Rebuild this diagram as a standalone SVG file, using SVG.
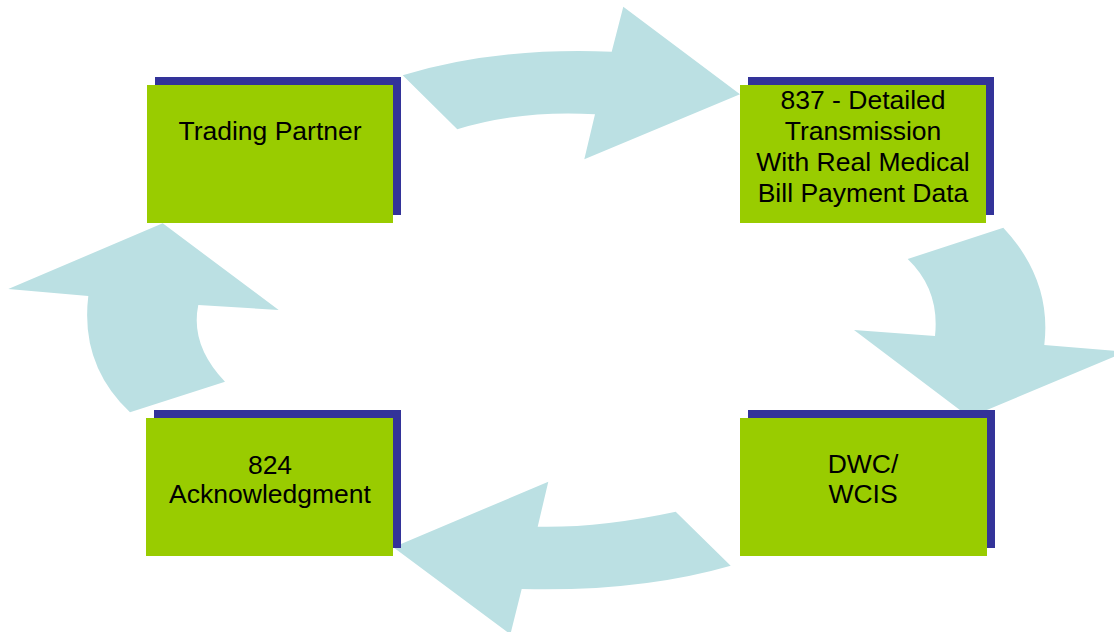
<svg xmlns="http://www.w3.org/2000/svg" width="1114" height="632" viewBox="0 0 1114 632">
<style>
.arrow{fill:#BBE0E3;stroke:none}
.shadow{fill:#333399}
.box{fill:#99CC00}
.label{font-family:"Liberation Sans",Arial,sans-serif;font-size:26.5px;fill:#000;text-anchor:middle}
</style>
<rect width="1114" height="632" fill="#fff"/>
<g id="connectors">
<path class="arrow" d="M402.7,75.3 Q495,47 611.7,51.7 L623.3,6.7 L740,94.3 L584.3,159.3 L595,114.3 Q520,110 457.3,129.3 Z"/>
<path class="arrow" d="M907.7,259 L1003.3,227.7 Q1052,280 1044.3,345 L1126,351.7 L969.5,417.2 L854,330 L935,336 Q940,290 907.7,259 Z"/>
<path class="arrow" d="M675.7,511.7 L730.7,565.7 Q640,592 521.7,589 L510.4,634.3 L393.3,547.3 L548.3,481.7 L537.7,526.7 Q600,528 675.7,511.7 Z"/>
<path class="arrow" d="M130,412.3 L225,381.7 Q190,345 198.3,305 L278.7,310 L162.7,223.3 L8.3,289 L88.3,296 Q80,365 130,412.3 Z"/>
</g>
<g id="trading-partner">
<rect class="shadow" x="155" y="77" width="246" height="138"/>
<rect class="box" x="147" y="85" width="246" height="138"/>
<text class="label" x="270" y="140">Trading Partner</text>
</g>
<g id="detailed-837">
<rect class="shadow" x="748" y="77" width="246" height="138"/>
<rect class="box" x="740" y="85" width="246" height="138"/>
<text class="label" x="863" y="108.5">837 - Detailed</text>
<text class="label" x="863" y="140">Transmission</text>
<text class="label" x="863" y="171">With Real Medical</text>
<text class="label" x="863" y="202">Bill Payment Data</text>
</g>
<g id="dwc-wcis">
<rect class="shadow" x="748" y="410" width="247" height="138"/>
<rect class="box" x="740" y="418" width="247" height="138"/>
<text class="label" x="863" y="473">DWC/</text>
<text class="label" x="863" y="503">WCIS</text>
</g>
<g id="ack-824">
<rect class="shadow" x="154" y="410" width="247" height="138"/>
<rect class="box" x="146" y="418" width="247" height="138"/>
<text class="label" x="270" y="474">824</text>
<text class="label" x="270" y="503">Acknowledgment</text>
</g>
</svg>
